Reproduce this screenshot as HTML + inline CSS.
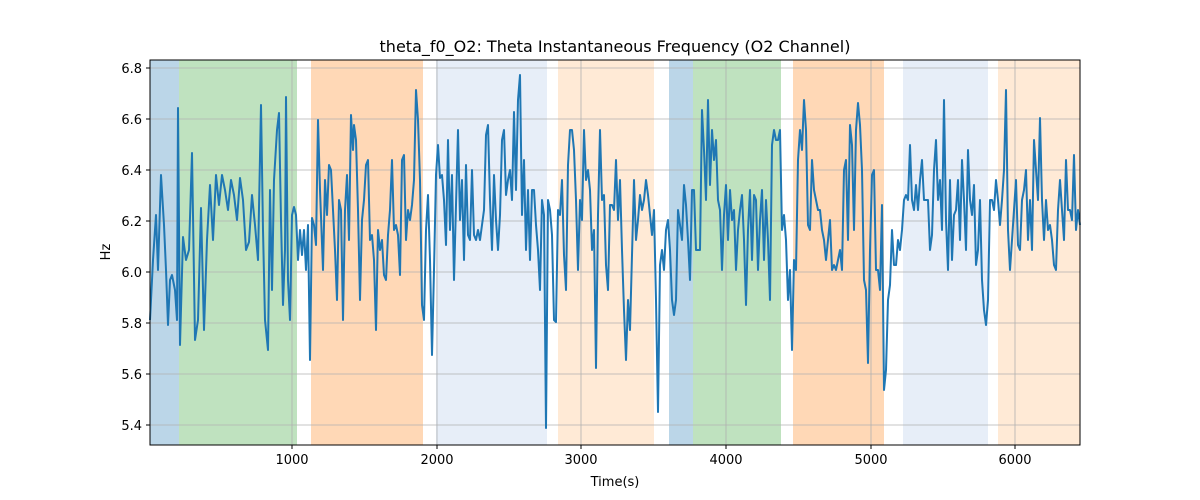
<!DOCTYPE html>
<html><head><style>
body{margin:0;background:#fff;}
svg{display:block;font-family:"DejaVu Sans","Liberation Sans",sans-serif;}
</style></head><body>
<svg width="1200" height="500" viewBox="0 0 1200 500">
<rect width="1200" height="500" fill="#fff"/>
<g>
<rect x="150" y="60" width="29" height="385" fill="#1f77b4" opacity="0.3"/>
<rect x="179" y="60" width="118" height="385" fill="#2ca02c" opacity="0.3"/>
<rect x="311" y="60" width="112" height="385" fill="#ff7f0e" opacity="0.3"/>
<rect x="436" y="60" width="111" height="385" fill="#aec7e8" opacity="0.3"/>
<rect x="558" y="60" width="96" height="385" fill="#ffbb78" opacity="0.3"/>
<rect x="669" y="60" width="24" height="385" fill="#1f77b4" opacity="0.3"/>
<rect x="693" y="60" width="88" height="385" fill="#2ca02c" opacity="0.3"/>
<rect x="793" y="60" width="91" height="385" fill="#ff7f0e" opacity="0.3"/>
<rect x="903" y="60" width="85" height="385" fill="#aec7e8" opacity="0.3"/>
<rect x="998" y="60" width="82" height="385" fill="#ffbb78" opacity="0.3"/>
</g>
<g stroke="#b0b0b0" stroke-width="0.8">
<line x1="292" y1="60" x2="292" y2="445"/><line x1="437" y1="60" x2="437" y2="445"/>
<line x1="581" y1="60" x2="581" y2="445"/><line x1="726" y1="60" x2="726" y2="445"/>
<line x1="871" y1="60" x2="871" y2="445"/><line x1="1015" y1="60" x2="1015" y2="445"/>
<line x1="150" y1="425" x2="1080" y2="425"/><line x1="150" y1="374" x2="1080" y2="374"/>
<line x1="150" y1="323" x2="1080" y2="323"/><line x1="150" y1="272" x2="1080" y2="272"/>
<line x1="150" y1="221" x2="1080" y2="221"/><line x1="150" y1="170" x2="1080" y2="170"/>
<line x1="150" y1="119" x2="1080" y2="119"/><line x1="150" y1="68" x2="1080" y2="68"/>
</g>
<polyline fill="none" stroke="#1f77b4" stroke-width="2" stroke-linejoin="round" points="150,320 153,260 156,215 158,270 161,175 164,225 166,270 168,325 170,280 172,275 175,290 177,320 178,108 180,345 183,237 186,260 189,250 192,153 195,340 198,320 201,208 204,330 207,240 210,185 213,240 216,175 219,205 222,175 225,190 228,210 231,180 234,195 237,220 240,178 243,200 246,250 249,242 252,195 255,225 258,260 261,105 263,230 265,320 268,350 270,190 272,290 274,180 277,130 279,113 281,220 283,305 285,250 286,97 288,280 290,320 292,215 294,207 296,215 298,260 300,230 302,255 304,230 306,270 308,225 310,360 312,218 314,225 316,245 318,120 320,190 323,270 325,180 327,215 329,165 331,170 333,210 335,250 337,300 339,200 341,210 343,320 345,210 347,175 349,240 351,115 353,150 354,125 356,140 358,210 360,300 362,220 364,200 366,165 368,160 370,240 372,235 374,260 376,330 378,230 380,250 382,240 384,275 386,280 388,235 390,210 392,160 394,230 396,225 398,235 400,275 402,160 404,155 406,240 408,210 410,220 412,205 414,180 416,90 418,120 420,180 422,305 424,320 426,230 428,195 430,260 432,355 434,270 436,175 438,145 440,178 442,175 444,200 446,245 448,140 450,230 452,175 454,280 456,205 458,130 460,220 462,180 464,260 466,165 468,235 470,240 472,170 474,235 476,240 478,230 480,240 482,225 484,210 486,135 488,125 490,200 492,250 494,175 496,220 498,250 500,215 502,140 504,130 506,195 508,180 510,170 512,200 514,112 516,190 518,100 520,75 522,215 524,160 526,250 528,190 530,260 532,190 534,190 536,225 538,250 540,290 542,200 544,215 546,428 548,200 550,210 552,235 554,320 556,322 558,210 560,215 562,180 564,255 566,290 568,165 570,130 572,130 574,150 576,200 578,270 580,200 582,220 584,130 586,180 588,170 590,190 592,250 594,230 596,368 598,215 600,130 602,200 604,195 606,265 608,290 610,205 612,205 614,210 616,160 618,220 620,180 622,250 624,310 626,360 628,300 630,330 632,255 634,180 636,240 638,220 640,195 642,210 644,200 646,180 648,195 650,215 652,235 654,210 656,300 658,412 660,265 662,250 664,270 666,230 668,220 670,250 672,300 674,315 676,300 678,210 680,225 682,240 684,185 686,205 688,240 690,280 692,190 694,190 696,250 698,250 700,250 702,110 704,150 706,200 708,100 710,185 712,130 714,160 716,140 718,200 720,210 722,270 724,215 726,185 728,240 730,190 732,220 734,210 736,270 738,230 740,210 742,195 744,240 746,305 748,230 750,190 752,260 754,195 756,200 758,270 760,220 762,190 764,260 766,200 768,240 770,300 772,145 774,130 776,140 778,140 780,130 782,230 784,215 786,240 788,300 790,270 792,350 794,260 796,270 798,160 800,130 802,150 804,100 806,130 808,225 810,230 812,160 814,190 816,200 818,210 820,210 822,230 824,240 826,260 828,240 830,220 832,270 834,265 836,270 838,260 840,250 842,270 844,170 846,160 848,240 850,125 852,145 854,230 856,130 858,103 860,125 862,170 864,280 866,290 868,363 870,250 872,175 874,170 876,270 878,270 880,290 882,205 884,390 886,370 888,300 890,285 892,230 894,265 896,265 898,240 900,250 902,230 904,200 906,195 908,200 910,145 912,200 914,210 916,185 918,210 920,180 922,160 924,200 926,200 928,200 930,250 932,235 934,170 936,140 938,200 940,180 942,230 944,100 946,220 948,270 950,180 952,260 954,215 956,210 958,180 960,240 962,160 964,200 966,250 968,150 970,200 972,215 974,185 976,265 978,250 980,200 982,280 984,310 986,325 988,300 990,200 992,200 994,210 996,180 998,200 1000,225 1002,200 1004,170 1006,90 1008,230 1010,270 1012,240 1014,210 1016,180 1018,245 1020,250 1022,200 1024,190 1026,170 1028,240 1030,200 1032,250 1034,140 1036,170 1038,200 1040,118 1042,200 1044,240 1046,200 1048,230 1050,225 1052,240 1054,265 1056,270 1058,210 1060,180 1062,210 1064,240 1066,160 1068,210 1070,210 1072,220 1074,155 1076,230 1078,210 1080,225"/>
<rect x="150" y="60" width="930" height="385" fill="none" stroke="#000" stroke-width="1"/>
<g stroke="#000" stroke-width="1">
<line x1="292" y1="445" x2="292" y2="449"/><line x1="437" y1="445" x2="437" y2="449"/>
<line x1="581" y1="445" x2="581" y2="449"/><line x1="726" y1="445" x2="726" y2="449"/>
<line x1="871" y1="445" x2="871" y2="449"/><line x1="1015" y1="445" x2="1015" y2="449"/>
<line x1="146" y1="425" x2="150" y2="425"/><line x1="146" y1="374" x2="150" y2="374"/>
<line x1="146" y1="323" x2="150" y2="323"/><line x1="146" y1="272" x2="150" y2="272"/>
<line x1="146" y1="221" x2="150" y2="221"/><line x1="146" y1="170" x2="150" y2="170"/>
<line x1="146" y1="119" x2="150" y2="119"/><line x1="146" y1="68" x2="150" y2="68"/>
</g>
<g font-size="13" fill="#000" text-anchor="middle">
<text x="292" y="464">1000</text><text x="437" y="464">2000</text><text x="581" y="464">3000</text>
<text x="726" y="464">4000</text><text x="871" y="464">5000</text><text x="1015" y="464">6000</text>
<text x="615" y="486">Time(s)</text>
<text x="615" y="52" font-size="16">theta_f0_O2: Theta Instantaneous Frequency (O2 Channel)</text>
</g>
<g font-size="13" fill="#000" text-anchor="end">
<text x="142" y="430">5.4</text><text x="142" y="379">5.6</text><text x="142" y="328">5.8</text>
<text x="142" y="277">6.0</text><text x="142" y="226">6.2</text><text x="142" y="175">6.4</text>
<text x="142" y="124">6.6</text><text x="142" y="73">6.8</text>
</g>
<text x="110" y="252" font-size="13" text-anchor="middle" transform="rotate(-90 110 252)">Hz</text>
</svg>
</body></html>
